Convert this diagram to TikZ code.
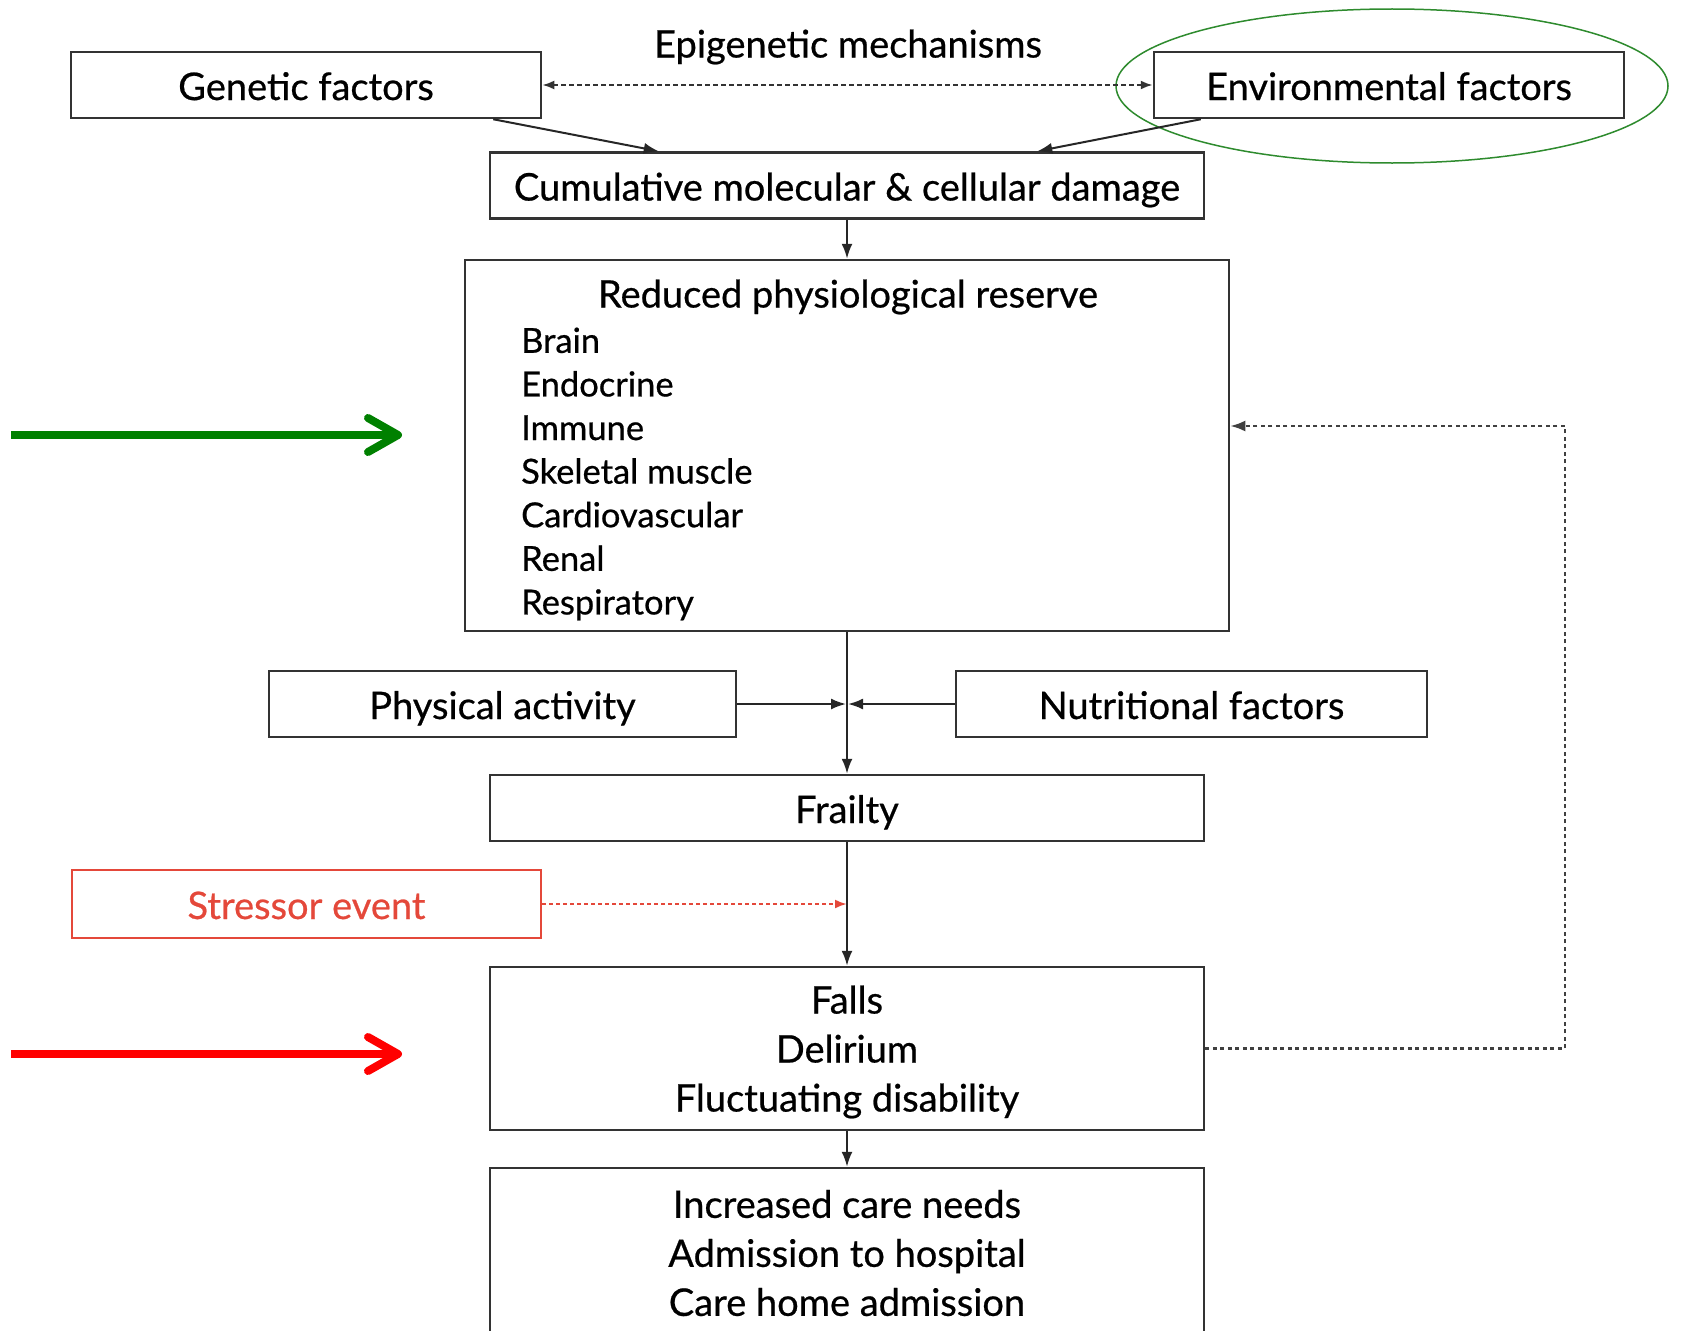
\documentclass[tikz,border=0pt]{standalone}
\usepackage{fontspec}
\setmainfont{Lato}[FakeBold=0.6]
\usetikzlibrary{arrows.meta,shapes.geometric}
\definecolor{boxgray}{HTML}{333333}
\definecolor{stressred}{HTML}{E4483A}
\definecolor{arrgreen}{HTML}{008000}
\definecolor{ellgreen}{HTML}{2E8B2E}
\tikzset{
  mbox/.style={draw=boxgray, line width=2.5pt, minimum height=66pt, inner sep=0pt,
    font=\fontsize{38}{49}\selectfont, align=center},
  box/.style={mbox, text height=38pt, text depth=8pt},
  txt/.style={inner sep=0pt, font=\fontsize{38}{49}\selectfont},
  conn/.style={line width=2pt, draw=black!85, -{Latex[length=15pt,width=11pt]}},
  dashconn/.style={line width=2.2pt, draw=black!80, dash pattern=on 5pt off 3pt},
  fbconn/.style={line width=2.4pt, draw=black!75, dash pattern=on 4pt off 3.5pt, -{Latex[length=15pt,width=11pt]}},
  stressconn/.style={line width=2.2pt, draw=stressred, dash pattern=on 4pt off 3pt, -{Latex[length=12pt,width=9pt]}},
  bigarrow/.style={line width=8pt, -{Straight Barb[length=30pt,width=34pt,round]}},
}
\begin{document}
\begin{tikzpicture}[x=1pt,y=-1pt]
\useasboundingbox (0,0) rectangle (1683,1330);
% top row
\node[txt] (epi) at (848,47) {Epigenetic mechanisms};
\node[box, minimum width=470pt] (gen) at (306,85) {Genetic factors};
\node[box, minimum width=470pt] (env) at (1389,85) {Environmental factors};
\node[ellipse, draw=ellgreen, line width=1.5pt, minimum width=552pt, minimum height=154pt, inner sep=0pt] (ring) at (1392,86) {};
\draw[dashconn, {Latex[length=12pt,width=9pt]}-{Latex[length=12pt,width=9pt]}] (gen.east) -- (env.west);
% cumulative
\node[box, minimum width=714pt] (cum) at (847,185.5) {Cumulative molecular \& cellular damage};
\draw[conn] ([xshift=-49pt]gen.south east) -- ([xshift=170pt]cum.north west);
\draw[conn] ([xshift=48pt]env.south west) -- ([xshift=-168pt]cum.north east);
% reduced reserve
\node[mbox, minimum width=764pt, minimum height=371pt] (red) at (847,445.5) {};
\node[txt] (redt) at (848,297) {Reduced physiological reserve};
\node[txt, anchor=west, align=left, font=\fontsize{34.5}{43.6}\selectfont] (redl) at (521,474)
  {Brain\\Endocrine\\Immune\\Skeletal muscle\\Cardiovascular\\Renal\\Respiratory};
\draw[conn] (cum) -- (red);
% modifiers
\node[box, minimum width=467pt] (phys) at (502.5,704) {Physical activity};
\node[box, minimum width=471pt] (nut) at (1191.5,704) {Nutritional factors};
\node[box, minimum width=714pt] (frail) at (847,808) {Frailty};
\draw[conn] (red) -- (frail);
\coordinate (mid) at (red.south |- phys.east);
\draw[conn] (phys.east) -- ([xshift=-1pt]mid);
\draw[conn] (nut.west) -- ([xshift=1pt]mid);
% stressor
\node[box, draw=stressred, text=stressred, minimum width=469pt, minimum height=68pt] (stress) at (306.5,904) {Stressor event};
\node[mbox, minimum width=714pt, minimum height=163pt] (falls) at (847,1048.5) {};
\node[txt, align=center] (fallst) at (847,1052) {Falls\\Delirium\\Fluctuating disability};
\draw[conn] (frail) -- (falls);
\draw[stressconn] (stress.east) -- (frail.south |- stress.east);
% outcomes
\node[mbox, minimum width=714pt, minimum height=164pt] (care) at (847,1250) {};
\node[txt, align=center] (caret) at (847,1253) {Increased care needs\\Admission to hospital\\Care home admission};
\draw[conn] (falls) -- (care);
% feedback loop
\coordinate (fbc) at (1565,426);
\draw[fbconn] (falls.east) -| (fbc) -- (red.east |- fbc);
% side arrows
\draw[bigarrow, draw=arrgreen] (11,435) -- (402,435);
\draw[bigarrow, draw=red] (11,1054) -- (402,1054);
\end{tikzpicture}
\end{document}
